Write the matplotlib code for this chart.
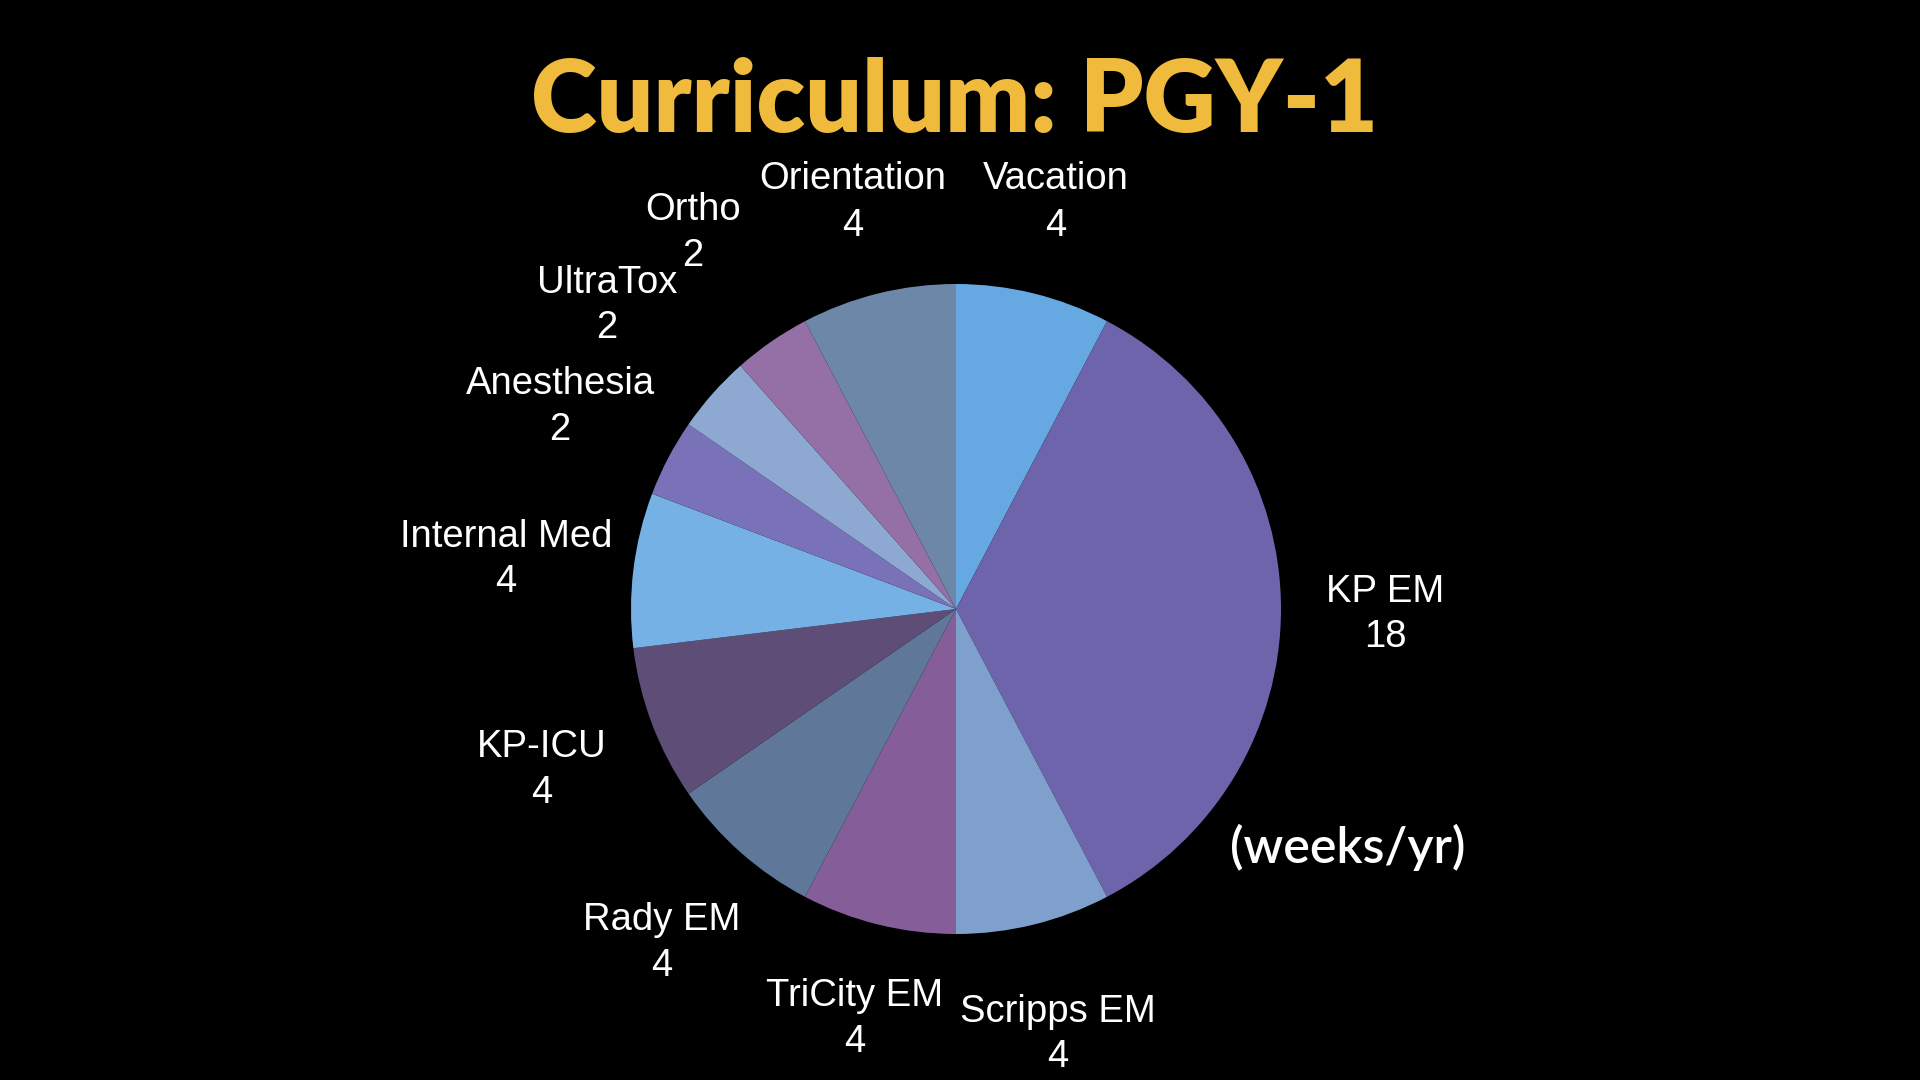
import matplotlib
matplotlib.use("Agg")
import matplotlib.pyplot as plt

# ---- data ----
categories = ["Vacation", "KP EM", "Scripps EM", "TriCity EM", "Rady EM", "KP-ICU",
              "Internal Med", "Anesthesia", "UltraTox", "Ortho", "Orientation"]
weeks = [4, 18, 4, 4, 4, 4, 4, 2, 2, 2, 4]
colors = ["#65A8E2", "#6D64AC", "#7F9FCC", "#845D99", "#5F7899", "#5E4E77",
          "#75B1E4", "#7A72B8", "#8DA8D1", "#9470A6", "#6D87A8"]
title = "Curriculum: PGY-1"
note = "(weeks/yr)"

# ---- layout (pixel positions of the label blocks: x, name y, value y) ----
label_pos = [(1056, 179, 226), (1385, 592, 637), (1058, 1012, 1057), (855, 996, 1042),
             (662, 920, 966), (542, 747, 793), (506, 537, 582), (560, 384, 430),
             (607, 283, 328), (693, 210, 256), (853, 179, 226)]

W, H = 1920, 1080
fig = plt.figure(figsize=(W / 100, H / 100), dpi=100, facecolor="black")
ax = fig.add_axes([0, 0, 1, 1])
ax.set_facecolor("black")

# y axis is inverted below, so counterclockwise in data = clockwise on screen
ax.pie(weeks, colors=colors, startangle=-90, counterclock=True,
       center=(956, 609), radius=325, frame=True,
       wedgeprops=dict(linewidth=0))
ax.set_xlim(0, W)
ax.set_ylim(H, 0)
ax.set_aspect("equal")
ax.axis("off")

lab_font = ["Liberation Sans", "DejaVu Sans"]
for name, val, (x, y1, y2) in zip(categories, weeks, label_pos):
    ax.text(x, y1, name, color="white", fontsize=27.5, ha="center", va="center",
            family=lab_font)
    ax.text(x, y2, str(val), color="white", fontsize=27.5, ha="center", va="center",
            family=lab_font)

ax.text(955, 103, title, color="#F0BA3C", fontsize=72, fontweight="heavy",
        ha="center", va="center", family=["Lato", "DejaVu Sans"])
ax.text(1348, 847, note, color="white", fontsize=36, fontweight="semibold",
        ha="center", va="center", family=["Lato", "DejaVu Sans"])

fig.savefig("out.png", dpi=100, facecolor="black")
